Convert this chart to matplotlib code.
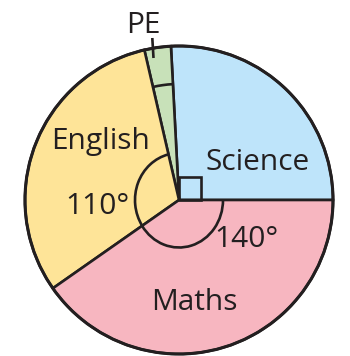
import matplotlib
matplotlib.use("Agg")
import matplotlib.pyplot as plt
from matplotlib.patches import Arc, Rectangle, Circle

# Data (drawn wedge angles, counter-clockwise from 3 o'clock)
subjects = ["Science", "PE", "English", "Maths"]
angles = [93, 10, 112, 145]
colors = ["#BEE4FA", "#C8E1B9", "#FEE498", "#F7B6C0"]
angle_labels = {"English": "110°", "Maths": "140°"}

INK = "#231F20"
W, H = 350, 356


def Y(ypx):
    return H - ypx


fig = plt.figure(figsize=(3.5, 3.56), dpi=100)
ax = fig.add_axes([0, 0, 1, 1])

cx, cy, R = 179, Y(200), 154
ax.pie(angles, colors=colors, startangle=0, counterclock=True,
       center=(cx, cy), radius=R,
       wedgeprops=dict(edgecolor=INK, linewidth=1.9, joinstyle="miter"))
ax.add_patch(Circle((cx, cy), R, fill=False, edgecolor=INK, linewidth=2.2, zorder=5))

# angle markers
starts = [0]
for a in angles[:-1]:
    starts.append(starts[-1] + a)
s_sci, s_pe, s_eng, s_mat = starts
# right angle square for Science
ax.add_patch(Rectangle((cx, cy), 22, 23, fill=False, edgecolor=INK, linewidth=1.9, zorder=6))
# English arc
ax.add_patch(Arc((cx, cy), 88, 94, theta1=s_eng, theta2=s_eng + angles[2],
                 edgecolor=INK, linewidth=1.9, zorder=6))
# Maths arc
ax.add_patch(Arc((cx, cy), 88, 95, theta1=s_mat, theta2=360,
                 edgecolor=INK, linewidth=1.9, zorder=6))
# PE arc
ax.add_patch(Arc((cx, cy), 232, 232, theta1=s_pe, theta2=s_pe + angles[1],
                 edgecolor=INK, linewidth=1.9, zorder=6))
# PE leader line
ax.plot([152.3, 153.5], [Y(38), Y(58)], color=INK, linewidth=1.9,
        solid_capstyle="butt", zorder=6)

font = dict(family="Open Sans", fontsize=21.5, color=INK, ha="center", va="baseline")
ax.text(143, Y(33), "PE", **font)
ax.text(100.5, Y(149.3), "English", **font)
ax.text(258, Y(170), "Science", **font)
ax.text(97, Y(214), angle_labels["English"], **font)
ax.text(246.5, Y(246.7), angle_labels["Maths"], **font)
ax.text(194.5, Y(310), "Maths", **font)

ax.set_xlim(0, W)
ax.set_ylim(0, H)
ax.set_aspect("auto")
ax.axis("off")

fig.savefig("out.png", dpi=100)
